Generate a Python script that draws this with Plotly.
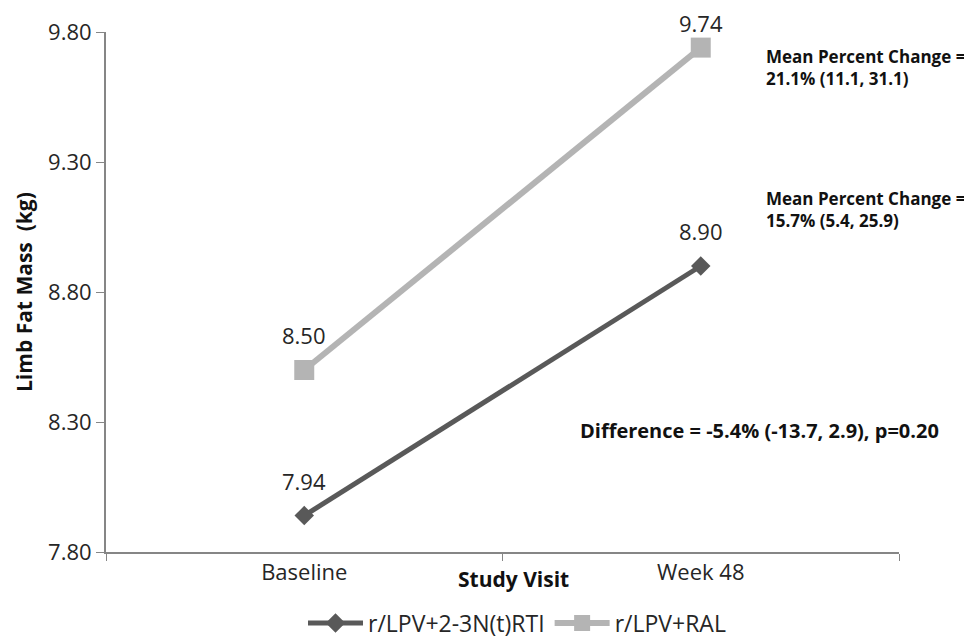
import plotly.graph_objects as go

visits = ["Baseline", "Week 48"]
series_names = ["r/LPV+2-3N(t)RTI", "r/LPV+RAL"]
nrti_values = [7.94, 8.90]
ral_values = [8.50, 9.74]
y_ticks = [7.80, 8.30, 8.80, 9.30, 9.80]

FONT = "'Open Sans', 'Noto Sans', sans-serif"
DARK = "#595959"
LIGHT = "#b4b4b4"
AXIS = "#868686"
TXT = "#262626"
Y_MIN, Y_MAX = y_ticks[0], y_ticks[-1]

fig = go.Figure()
fig.add_trace(go.Scatter(
    x=visits, y=nrti_values, name=series_names[0], mode="lines+markers",
    line=dict(color=DARK, width=5),
    marker=dict(symbol="diamond", size=15, color=DARK),
))
fig.add_trace(go.Scatter(
    x=visits, y=ral_values, name=series_names[1], mode="lines+markers",
    line=dict(color=LIGHT, width=6),
    marker=dict(symbol="square", size=20, color=LIGHT),
))

annotations = []
for xs, ys in ((visits, nrti_values), (visits, ral_values)):
    for xv, yv in zip(xs, ys):
        # labels near the top of the plot are pulled down so they stay on the page
        shift = 25 if (Y_MAX - yv) < 0.1 else 35
        annotations.append(dict(
            x=xv, y=yv, xref="x", yref="y", text=f"{yv:.2f}", showarrow=False,
            yshift=shift, font=dict(family=FONT, size=22, color=TXT),
        ))

bold = dict(family=FONT, size=17, color="#111111")
annotations += [
    dict(xref="paper", yref="paper", x=(764 - 106) / 793, y=(552 - 68) / 520,
         xanchor="left", yanchor="middle", align="left", showarrow=False,
         text="<b>Mean Percent Change =<br>21.1% (11.1, 31.1)</b>", font=bold),
    dict(xref="paper", yref="paper", x=(764 - 106) / 793, y=(552 - 209) / 520,
         xanchor="left", yanchor="middle", align="left", showarrow=False,
         text="<b>Mean Percent Change =<br>15.7% (5.4, 25.9)</b>", font=bold),
    dict(xref="paper", yref="paper", x=(578 - 106) / 793, y=(552 - 430) / 520,
         xanchor="left", yanchor="middle", align="left", showarrow=False,
         text="<b>Difference = -5.4% (-13.7, 2.9), p=0.20</b>",
         font=dict(family=FONT, size=20, color="#111111")),
    dict(xref="paper", yref="paper", x=(513 - 106) / 793, y=(552 - 579) / 520,
         xanchor="center", yanchor="middle", showarrow=False,
         text="<b>Study Visit</b>", font=dict(family=FONT, size=21, color="#111111")),
    dict(xref="paper", yref="paper", x=(24 - 106) / 793, y=(552 - 292) / 520,
         xanchor="center", yanchor="middle", showarrow=False, textangle=-90,
         text="<b>Limb Fat Mass  (kg)</b>", font=dict(family=FONT, size=21, color="#111111")),
]

FIG_W, FIG_H = 964, 630
fig.update_layout(
    width=FIG_W, height=FIG_H,
    margin=dict(l=98, r=73, t=24, b=86),
    paper_bgcolor="white", plot_bgcolor="white",
    font=dict(family=FONT, color=TXT),
    showlegend=True,
    legend=dict(orientation="h", xref="paper", x=(517 - 106) / 793, xanchor="center",
                yref="container", y=15 / FIG_H, yanchor="middle",
                font=dict(family=FONT, size=23, color=TXT), itemwidth=55,
                tracegroupgap=0, borderwidth=0, bgcolor="rgba(0,0,0,0)"),
    annotations=annotations,
    xaxis=dict(
        type="category", range=[-0.5, 1.5], tickson="boundaries", automargin=False,
        showline=True, linecolor=AXIS, linewidth=2,
        ticks="outside", ticklen=7, tickcolor=AXIS, tickwidth=1,
        showgrid=False, zeroline=False,
        tickfont=dict(family=FONT, size=22, color=TXT),
    ),
    yaxis=dict(
        range=[Y_MIN, Y_MAX], tickvals=y_ticks, tickformat=".2f", automargin=False,
        showline=True, linecolor=AXIS, linewidth=2,
        ticks="outside", ticklen=8, tickcolor=AXIS, tickwidth=1,
        showgrid=False, zeroline=False,
        tickfont=dict(family=FONT, size=22, color=TXT),
    ),
)

fig.write_html("out.html")
